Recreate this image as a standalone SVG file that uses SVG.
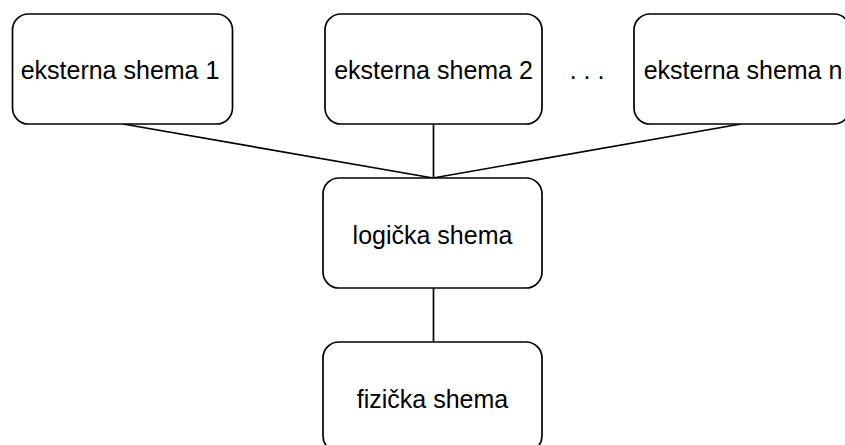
<svg xmlns="http://www.w3.org/2000/svg" width="845" height="445" viewBox="0 0 845 445">
<style>
.box{fill:#fff;stroke:#000;stroke-width:1.7}
.lbl{font-family:"Liberation Sans",Arial,sans-serif;font-size:25px;fill:#000;text-anchor:middle}
.ln{stroke:#000;stroke-width:1.7;fill:none}
</style>
<rect width="845" height="445" fill="#fff"/>
<g id="connectors">
<line class="ln" x1="123" y1="124" x2="433" y2="178"/>
<line class="ln" x1="433.5" y1="124" x2="433.5" y2="178"/>
<line class="ln" x1="741" y1="124" x2="433" y2="178"/>
<line class="ln" x1="433.5" y1="288" x2="433.5" y2="342"/>
</g>
<g id="ext1"><rect class="box" x="12.5" y="14" width="220" height="110" rx="16" ry="16"/><text class="lbl" x="120" y="78.5">eksterna shema 1</text></g>
<g id="ext2"><rect class="box" x="325" y="14" width="217" height="110" rx="16" ry="16"/><text class="lbl" x="433.5" y="78.5">eksterna shema 2</text></g>
<g id="dots"><text class="lbl" x="587" y="78.5">. . .</text></g>
<g id="extn"><rect class="box" x="634" y="14" width="216" height="110" rx="16" ry="16"/><text class="lbl" x="743" y="78.5">eksterna shema n</text></g>
<g id="logicka"><rect class="box" x="323" y="178" width="219" height="110" rx="16" ry="16"/><text class="lbl" x="432.5" y="243.5">logička shema</text></g>
<g id="fizicka"><rect class="box" x="323" y="342" width="219" height="110" rx="16" ry="16"/><text class="lbl" x="432.5" y="407.5">fizička shema</text></g>
</svg>
